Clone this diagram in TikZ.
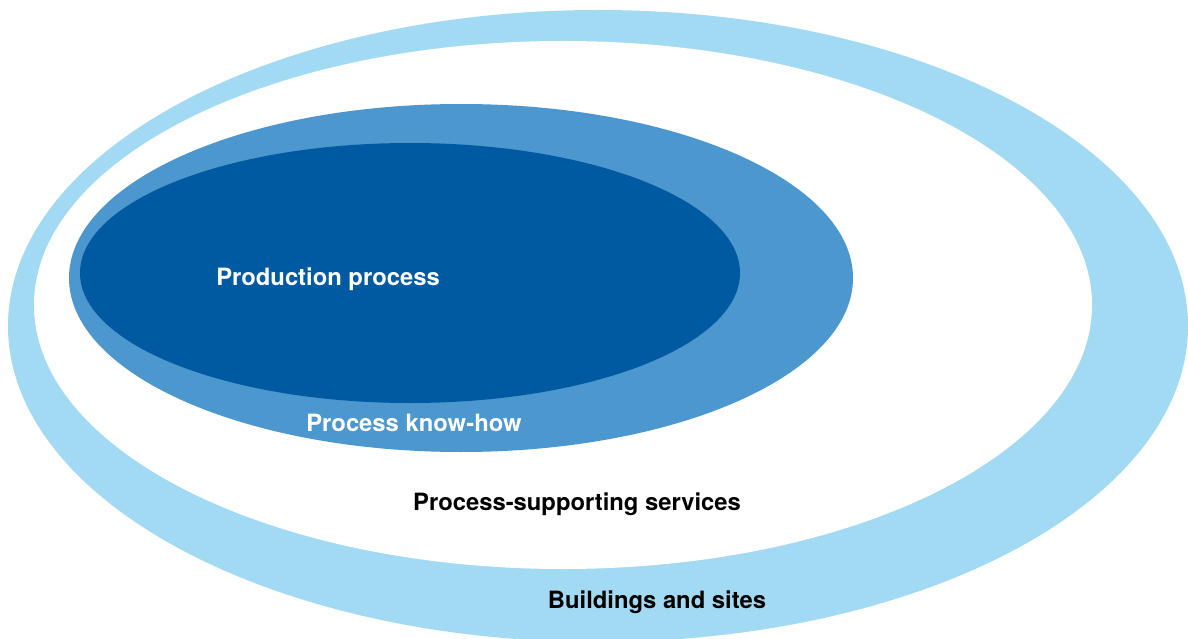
\documentclass[tikz,border=0pt]{standalone}
\usepackage{fontspec}
\setmainfont{TeX Gyre Heros}
\usepackage{tikz}
\usetikzlibrary{shapes}
\definecolor{sitesblue}{HTML}{A3DAF3}
\definecolor{knowblue}{HTML}{4C97CD}
\definecolor{prodblue}{HTML}{005AA1}
\tikzset{lbl/.style={font=\fontsize{23.8}{28}\selectfont\bfseries, inner sep=0pt, anchor=base}}

\begin{document}
\begin{tikzpicture}[x=1pt, y=-1pt]

  \useasboundingbox (0,0) rectangle (1188,639);

  \fill[sitesblue] (598,326) ellipse [x radius=590, y radius=316]; %% buildings and sites
  \fill[white] (563,305) ellipse [x radius=529, y radius=264]; %% services
  \fill[knowblue] (461,278) ellipse [x radius=392, y radius=174]; %% know-how
  \fill[prodblue] (410,273) ellipse [x radius=330, y radius=130]; %% production

  \node[lbl, white] (prod) at (328,285) {Production process};
  \node[lbl, white] (knowhow) at (414,431) {Process know-how};
  \node[lbl, black] (services) at (577,510) {Process-supporting services};
  \node[lbl, black] (sites) at (657,608) {Buildings and sites};

\end{tikzpicture}
\end{document}
